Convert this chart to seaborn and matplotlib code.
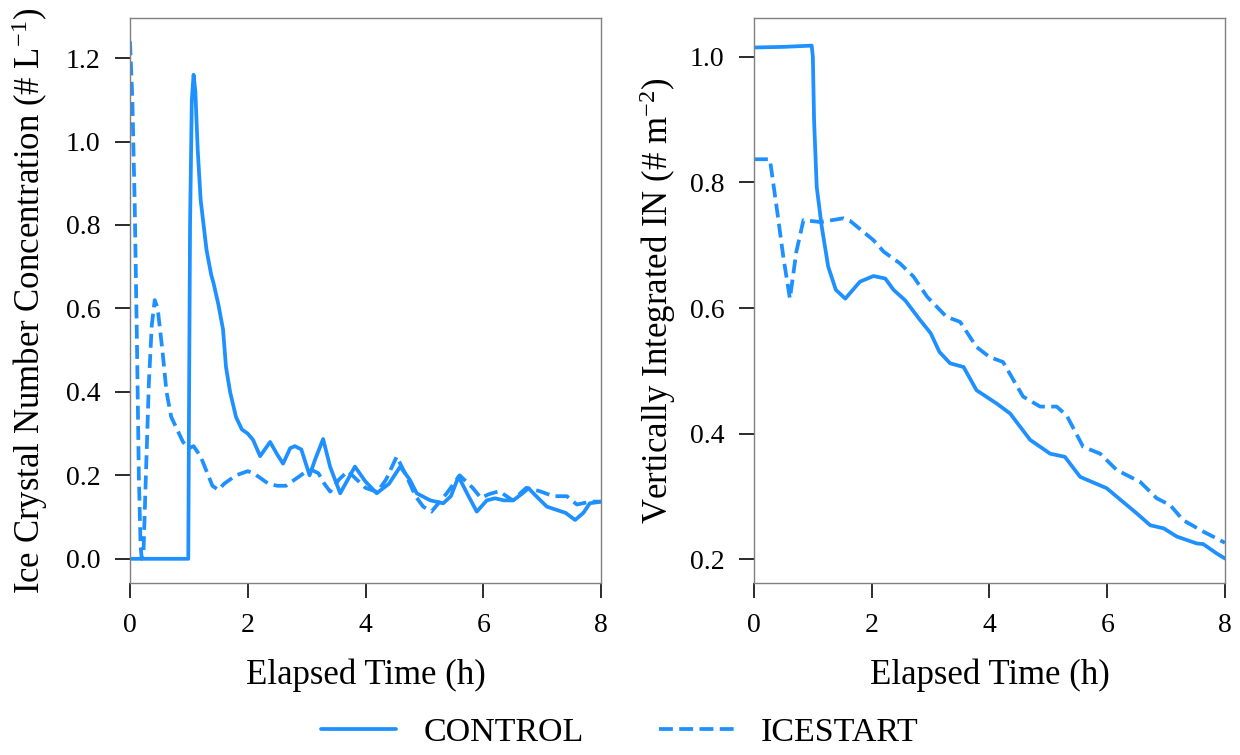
import numpy as np
import pandas as pd
import matplotlib
matplotlib.use("Agg")
import matplotlib.pyplot as plt
import seaborn as sns
from matplotlib.lines import Line2D

# ---------------- data ----------------
# Left panel: ice crystal number concentration (# L^-1)
ctl_left_t = [0, 0.99, 1.0, 1.02, 1.05, 1.08, 1.11, 1.15, 1.2, 1.3, 1.38, 1.42, 1.5, 1.58, 1.63,
              1.7, 1.8, 1.9, 2.0, 2.09, 2.21, 2.38, 2.5, 2.6, 2.72, 2.8, 2.91, 3.05, 3.15, 3.28,
              3.4, 3.57, 3.7, 3.82, 4.0, 4.19, 4.4, 4.59, 4.75, 4.87, 5.1, 5.32, 5.45, 5.58,
              5.75, 5.89, 6.06, 6.2, 6.35, 6.51, 6.65, 6.77, 6.9, 7.08, 7.25, 7.4, 7.56, 7.7,
              7.81, 8.0]
ctl_left_v = [0, 0, 0.3, 0.8, 1.1, 1.16, 1.12, 0.98, 0.86, 0.74, 0.68, 0.66, 0.61, 0.55, 0.46,
              0.40, 0.34, 0.31, 0.30, 0.285, 0.246, 0.28, 0.25, 0.228, 0.265, 0.27, 0.262, 0.2,
              0.24, 0.287, 0.22, 0.157, 0.19, 0.221, 0.185, 0.157, 0.18, 0.221, 0.19, 0.157,
              0.14, 0.133, 0.15, 0.197, 0.15, 0.113, 0.14, 0.145, 0.14, 0.14, 0.155, 0.169,
              0.15, 0.125, 0.117, 0.11, 0.093, 0.11, 0.133, 0.137]

ice_left_t = [0, 0.04, 0.08, 0.12, 0.15, 0.18, 0.2, 0.23, 0.27, 0.32, 0.37, 0.42, 0.47, 0.55,
              0.62, 0.7, 0.8, 0.9, 1.0, 1.08, 1.2, 1.3, 1.4, 1.5, 1.6, 1.7, 1.8, 1.9, 2.0, 2.1,
              2.2, 2.35, 2.5, 2.65, 2.8, 2.9, 3.0, 3.1, 3.2, 3.3, 3.4, 3.55, 3.7, 3.85, 4.0,
              4.2, 4.35, 4.53, 4.7, 4.85, 4.98, 5.12, 5.25, 5.38, 5.6, 5.82, 5.96, 6.1, 6.27,
              6.5, 6.73, 6.96, 7.19, 7.42, 7.59, 7.82, 8.0]
ice_left_v = [1.24, 1.1, 0.85, 0.5, 0.2, 0.03, 0.0, 0.02, 0.2, 0.42, 0.56, 0.62, 0.6, 0.5,
              0.4, 0.34, 0.31, 0.28, 0.265, 0.27, 0.245, 0.21, 0.175, 0.165, 0.18, 0.19, 0.2,
              0.205, 0.21, 0.205, 0.195, 0.18, 0.175, 0.175, 0.19, 0.2, 0.21, 0.212, 0.205,
              0.18, 0.161, 0.19, 0.21, 0.19, 0.17, 0.16, 0.19, 0.245, 0.197, 0.15, 0.125,
              0.113, 0.135, 0.157, 0.2, 0.17, 0.146, 0.155, 0.162, 0.14, 0.17, 0.162, 0.15,
              0.15, 0.13, 0.137, 0.137]

# Right panel: vertically integrated IN (# m^-2)
ctl_right_t = [0, 0.5, 0.98, 1.0, 1.02, 1.065, 1.15, 1.26, 1.39, 1.55, 1.8, 2.03, 2.23, 2.37,
               2.57, 2.82, 3.0, 3.15, 3.33, 3.56, 3.78, 4.12, 4.35, 4.69, 5.03, 5.28, 5.54,
               5.99, 6.27, 6.5, 6.73, 6.96, 7.18, 7.52, 7.63, 7.86, 8.0]
ctl_right_v = [1.015, 1.016, 1.018, 1.0, 0.9, 0.793, 0.73, 0.666, 0.629, 0.615, 0.642, 0.651,
               0.647, 0.629, 0.612, 0.581, 0.56, 0.53, 0.512, 0.506, 0.469, 0.448, 0.432,
               0.39, 0.368, 0.363, 0.331, 0.313, 0.291, 0.273, 0.254, 0.249, 0.236, 0.225,
               0.224, 0.209, 0.201]

ice_right_t = [0, 0.27, 0.4, 0.5, 0.61, 0.72, 0.84, 1.13, 1.52, 1.63, 2.03, 2.2, 2.48, 2.71,
               2.94, 3.27, 3.5, 3.78, 4.0, 4.23, 4.57, 4.86, 5.14, 5.31, 5.59, 5.88, 6.16,
               6.56, 6.84, 7.07, 7.29, 7.63, 8.0]
ice_right_v = [0.837, 0.837, 0.75, 0.68, 0.615, 0.69, 0.74, 0.737, 0.743, 0.739, 0.708,
               0.69, 0.671, 0.65, 0.618, 0.586, 0.578, 0.538, 0.522, 0.514, 0.459, 0.443,
               0.443, 0.429, 0.379, 0.368, 0.342, 0.323, 0.297, 0.286, 0.262, 0.244, 0.226]

labels = ["CONTROL", "ICESTART"]
x_ticks = [0, 2, 4, 6, 8]
left_yticks = [0.0, 0.2, 0.4, 0.6, 0.8, 1.0, 1.2]
right_yticks = [0.2, 0.4, 0.6, 0.8, 1.0]

# ---------------- style ----------------
sns.set_theme(style="ticks")
plt.rcParams["font.family"] = ["Liberation Serif", "DejaVu Serif"]
plt.rcParams["mathtext.fontset"] = "custom"
plt.rcParams["mathtext.rm"] = "Liberation Serif"
plt.rcParams["mathtext.it"] = "Liberation Serif:italic"
plt.rcParams["axes.edgecolor"] = "#808080"
plt.rcParams["axes.linewidth"] = 1.0
plt.rcParams["xtick.color"] = "#1a1a1a"
plt.rcParams["ytick.color"] = "#1a1a1a"
plt.rcParams["text.color"] = "black"
plt.rcParams["axes.labelcolor"] = "black"
plt.rcParams["xtick.labelcolor"] = "black"
plt.rcParams["ytick.labelcolor"] = "black"

COLOR = "#1E90FF"
LW = 2.7
DASH = (0, (3.7, 1.7))

fig = plt.figure(figsize=(12.4, 7.55), dpi=100)
ax1 = fig.add_axes([130 / 1240, 172 / 755, 471 / 1240, 565 / 755])
ax2 = fig.add_axes([754 / 1240, 172 / 755, 471 / 1240, 565 / 755])

def draw(ax, t, v, ls):
    df = pd.DataFrame({"t": t, "v": v})
    sns.lineplot(data=df, x="t", y="v", ax=ax, color=COLOR, linewidth=LW,
                 linestyle=ls, sort=False, estimator=None, legend=False)

draw(ax1, ctl_left_t, ctl_left_v, "-")
draw(ax1, ice_left_t, ice_left_v, DASH)
draw(ax2, ctl_right_t, ctl_right_v, "-")
draw(ax2, ice_right_t, ice_right_v, DASH)

ax1.set_xlim(0, 8)
ax1.set_ylim(-0.058, 1.296)
ax2.set_xlim(0, 8)
ax2.set_ylim(0.162, 1.062)

for ax, yt in ((ax1, left_yticks), (ax2, right_yticks)):
    ax.set_xticks(x_ticks)
    ax.set_xticklabels([str(x) for x in x_ticks])
    ax.set_yticks(yt)
    ax.set_yticklabels([f"{y:.1f}" for y in yt])
    ax.tick_params(axis="both", labelsize=20, length=10.5, width=1.3, direction="out", pad=11)
    ax.set_xlabel("Elapsed Time (h)", fontsize=25, labelpad=15)

ax1.set_ylabel("Ice Crystal Number Concentration (# L$^{-1}$)", fontsize=25, labelpad=11)
ax2.set_ylabel("Vertically Integrated IN (# m$^{-2}$)", fontsize=25, labelpad=8)

handles = [Line2D([0], [0], color=COLOR, lw=LW, linestyle="-"),
           Line2D([0], [0], color=COLOR, lw=LW, linestyle=DASH)]
fig.legend(handles, labels, loc="center", bbox_to_anchor=(0.5, 0.03), ncol=2,
           frameon=False, fontsize=24.5, handlelength=2.2, handletextpad=0.8,
           columnspacing=2.2)

fig.savefig("out.png", dpi=100)
